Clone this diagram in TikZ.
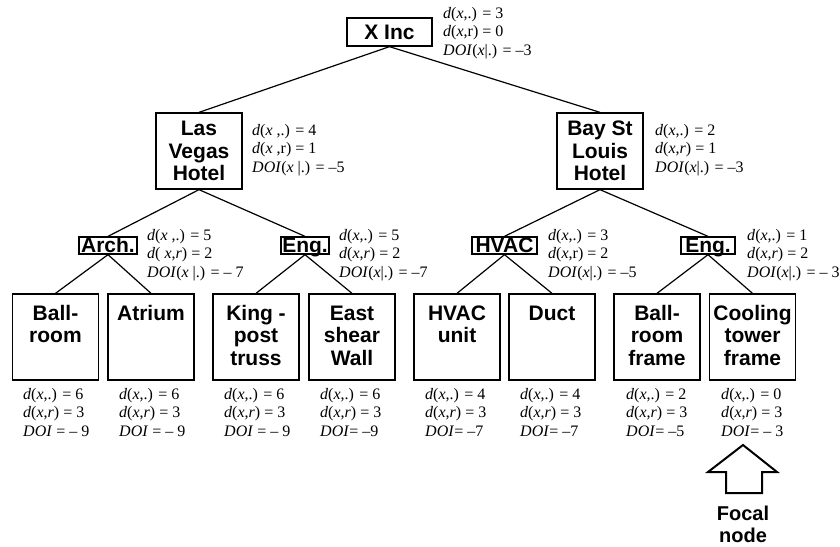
\documentclass[tikz,border=0pt]{standalone}
\usepackage{fontspec}
\setmainfont{Liberation Serif}
\setsansfont{Liberation Sans}
\newcommand{\Dv}{\textit{d}}
\newcommand{\Xv}{\textit{x}}
\newcommand{\Rv}{\textit{r}}
\newcommand{\Doi}{\textit{DOI}}
\newcommand{\lbox}[1]{\parbox[c][86pt][t]{86pt}{\centering\rule{0pt}{26pt}#1\par}}
\tikzset{
 box/.style={draw, line width=1.3pt, inner sep=0pt, font=\sffamily\bfseries\fontsize{21}{22.5}\selectfont},
 top/.style={box, align=center, minimum width=85pt, minimum height=28pt},
 mid/.style={box, align=center, minimum width=86pt, minimum height=76pt},
 cat/.style={box, minimum height=17pt, text height=15pt, text depth=2pt},
 leaf/.style={box, minimum width=86pt, minimum height=86pt},
 info/.style={anchor=north west, inner sep=0pt, align=left, font=\fontsize{16}{18.5}\selectfont},
 edge/.style={line width=1.2pt},
}
\begin{document}
\begin{tikzpicture}[x=1pt,y=-1pt]
\useasboundingbox (0,0) rectangle (840,546);
% level 0
\node[top] (xinc) at (389.5,32) {X Inc};
% level 1
\node[mid] (lv) at (199,151) {Las\\Vegas\\Hotel};
\node[mid] (bsl) at (600,151) {Bay St\\Louis\\Hotel};
% level 2
\node[cat, minimum width=58pt] (arch) at (108,245.5) {Arch.};
\node[cat, minimum width=48pt] (engl) at (305,245.5) {Eng.};
\node[cat, minimum width=65pt] (hvac) at (504.5,245.5) {HVAC};
\node[cat, minimum width=54pt] (engr) at (708,245.5) {Eng.};
% leaves
\node[leaf] (ball) at (55.5,337) {\lbox{Ball-\\room}};
\node[leaf] (atr) at (151,337) {\lbox{Atrium}};
\node[leaf] (king) at (256,337) {\lbox{King -\\post\\truss}};
\node[leaf] (east) at (352,337) {\lbox{East\\shear\\Wall}};
\node[leaf] (hvu) at (457,337) {\lbox{HVAC\\unit}};
\node[leaf] (duct) at (552,337) {\lbox{Duct}};
\node[leaf] (bfr) at (657,337) {\lbox{Ball-\\room\\frame}};
\node[leaf] (cool) at (752.5,337) {\lbox{Cooling\\tower\\frame}};
% edges
\draw[edge] (xinc.south) -- (lv.north);
\draw[edge] (xinc.south) -- (bsl.north);
\draw[edge] (lv.south) -- (arch.north);
\draw[edge] (lv.south) -- (engl.north);
\draw[edge] (bsl.south) -- (hvac.north);
\draw[edge] (bsl.south) -- (engr.north);
\draw[edge] (arch.south) -- (ball.north);
\draw[edge] (arch.south) -- (atr.north);
\draw[edge] (engl.south) -- (king.north);
\draw[edge] (engl.south) -- (east.north);
\draw[edge] (hvac.south) -- (hvu.north);
\draw[edge] (hvac.south) -- (duct.north);
\draw[edge] (engr.south) -- (bfr.north);
\draw[edge] (engr.south) -- (cool.north);
% info labels
\node[info] (ixinc) at (443,7) {\Dv(\Xv,.) = 3\\\Dv(\Xv,r) = 0\\\Doi(\Xv|.) = –3};
\node[info] (ilv) at (252,124) {\Dv(\Xv\ ,.) = 4\\\Dv(\Xv\ ,r) = 1\\\Doi(\Xv\ |.) = –5};
\node[info] (ibsl) at (655,124) {\Dv(\Xv,.) = 2\\\Dv(\Xv,\Rv) = 1\\\Doi(\Xv|.) = –3};
\node[info] (iarch) at (147,229) {\Dv(\Xv\ ,.) = 5\\\Dv( \Xv,\Rv) = 2\\\Doi(\Xv\ |.) = – 7};
\node[info] (iengl) at (339,229) {\Dv(\Xv,.) = 5\\\Dv(\Xv,\Rv) = 2\\\Doi(\Xv|.) = –7};
\node[info] (ihvac) at (548,229) {\Dv(\Xv,.) = 3\\\Dv(\Xv,r) = 2\\\Doi(\Xv|.) = –5};
\node[info] (iengr) at (747,229) {\Dv(\Xv,.) = 1\\\Dv(\Xv,\Rv) = 2\\\Doi(\Xv|.) = – 3};
% leaf labels
\node[info] (iball) at (23,388) {\Dv(\Xv,.) = 6\\\Dv(\Xv,\Rv) = 3\\\Doi\ = – 9};
\node[info] (iatr) at (119,388) {\Dv(\Xv,.) = 6\\\Dv(\Xv,\Rv) = 3\\\Doi\ = – 9};
\node[info] (iking) at (224,388) {\Dv(\Xv,.) = 6\\\Dv(\Xv,\Rv) = 3\\\Doi\ = – 9};
\node[info] (ieast) at (320,388) {\Dv(\Xv,.) = 6\\\Dv(\Xv,\Rv) = 3\\\Doi= –9};
\node[info] (ihvu) at (425,388) {\Dv(\Xv,.) = 4\\\Dv(\Xv,\Rv) = 3\\\Doi= –7};
\node[info] (iduct) at (520,388) {\Dv(\Xv,.) = 4\\\Dv(\Xv,\Rv) = 3\\\Doi= –7};
\node[info] (ibfr) at (626,388) {\Dv(\Xv,.) = 2\\\Dv(\Xv,\Rv) = 3\\\Doi= –5};
\node[info] (icool) at (721,388) {\Dv(\Xv,.) = 0\\\Dv(\Xv,\Rv) = 3\\\Doi= – 3};
% focal arrow
\draw[line width=2pt, line join=miter] (743,445) -- (777,472) -- (762,472) -- (762,493) -- (726,493) -- (726,472) -- (708,472) -- cycle;
\node[anchor=north, inner sep=0pt, align=center, font=\sffamily\bfseries\fontsize{20}{22}\selectfont] (focal) at (743,506) {Focal\\node};
\end{tikzpicture}
\end{document}
